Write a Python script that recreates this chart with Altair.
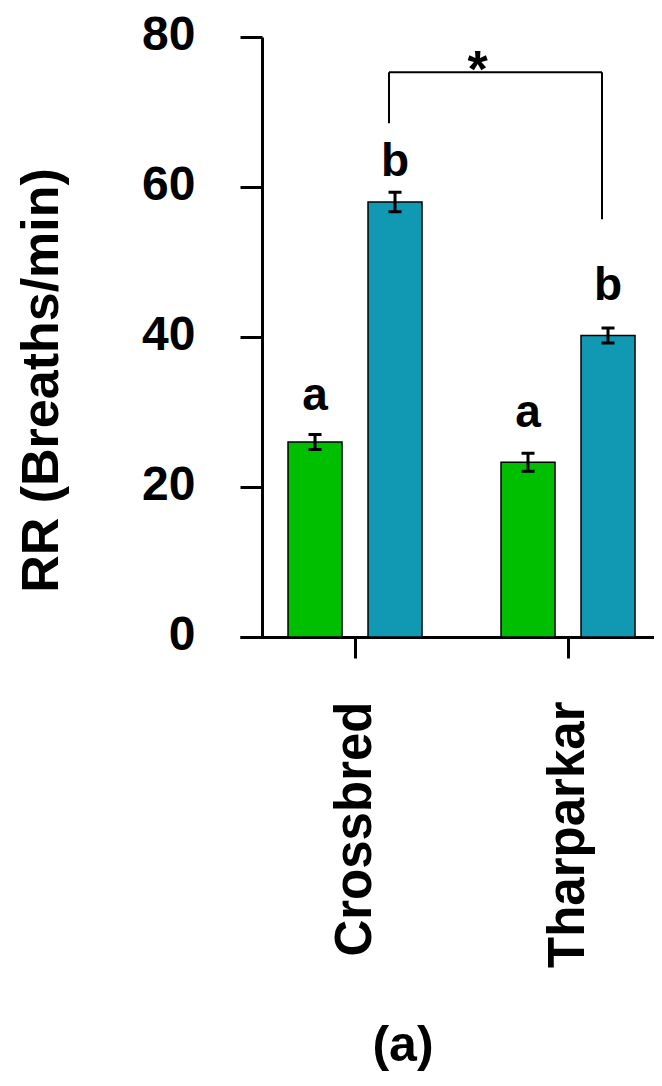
import json
import altair as alt
import pandas as pd

# ---------------- data ----------------
breeds = ["Crossbred", "Tharparkar"]
conditions = ["Control", "Heat stress"]
rr_mean = [26.0, 58.0, 23.3, 40.2]   # Crossbred-Control, Crossbred-Heat, Tharparkar-Control, Tharparkar-Heat
rr_err = [1.0, 1.3, 1.2, 1.0]
letters = ["a", "b", "a", "b"]
letter_y = [30.3, 61.5, 28.0, 45.0]
bar_colors = ["#00BF00", "#1199B4"]
y_ticks = [0, 20, 40, 60, 80]
sig_text = ["*"]
sig_top = 75.3
sig_left_end = 68.5
sig_right_end = 55.7

# ---------------- layout constants ----------------
STEP = 213.0          # px per breed group
OFF = 40 / STEP       # bar centre offset from group centre
HALF = 27 / STEP      # half bar width
CAP = 6.5 / STEP      # half error cap width
NUDGE = 6 / STEP      # bracket slightly left of bar centres
FONT = "Liberation Sans"
W = 392

rows = []
for i, b in enumerate(breeds):
    for j, c in enumerate(conditions):
        k = i * 2 + j
        u = i + (j - 0.5) * 2 * OFF
        rows.append(dict(
            breed=b, cond=c, u=u, x0=u - HALF, x1=u + HALF,
            mean=rr_mean[k], zero=0.0,
            lo=rr_mean[k] - rr_err[k], hi=rr_mean[k] + rr_err[k],
            cl=u - CAP, cr=u + CAP, letter=letters[k], ly=letter_y[k],
        ))
df = pd.DataFrame(rows)

uL = 0 + OFF - NUDGE
uR = 1 + OFF - NUDGE
bracket = pd.DataFrame([
    dict(x=uL, x2=uL, y=sig_top, y2=sig_left_end),
    dict(x=uR, x2=uR, y=sig_top, y2=sig_right_end),
    dict(x=uL, x2=uR, y=sig_top, y2=sig_top),
])
star = pd.DataFrame([dict(x=(uL + uR) / 2, y=sig_top, t=sig_text[0])])

# ---------------- scales & axes ----------------
xs = alt.Scale(domain=[-0.54, -0.54 + (W + 22) / STEP], range=[-22, W], nice=False, zero=False)
ys = alt.Scale(domain=[0, 80], nice=False, zero=True)

xaxis = alt.Axis(
    values=[0, 1], labelExpr=f"{json.dumps(breeds)}[datum.value]",
    domainColor="black", domainWidth=3, tickColor="black", tickWidth=3, tickSize=21,
    labelAngle=270, labelAlign="right", labelBaseline="middle", labelLimit=1000,
    labelFont=FONT, labelFontWeight="bold", labelFontSize=51, labelColor="black",
    labelPadding=43, labelFlush=False, labelOverlap=False, labelBound=False,
    grid=False, title="(a)", titleFont=FONT, titleFontWeight="bold", titleFontSize=50,
    titleColor="black", titleAngle=0, titleAlign="center", titleBaseline="alphabetic",
    titleX=140.5, titleY=423.5, titleLimit=1000,
)
yaxis = alt.Axis(
    values=y_ticks, domainColor="black", domainWidth=3, tickColor="black", tickWidth=3,
    tickSize=22, labelFont=FONT, labelFontWeight="bold", labelFontSize=48,
    labelColor="black", labelPadding=45, labelAlign="right", labelBaseline="middle",
    labelOffset=-2, labelFlush=False, labelLimit=1000, grid=False,
    title="RR (Breaths/min)", titleFont=FONT, titleFontWeight="bold", titleFontSize=52,
    titleColor="black", titleAngle=270, titleAlign="center", titleBaseline="alphabetic",
    titleX=-205, titleY=343, titleLimit=1000,
)

def X(f):
    return alt.X(f, type="quantitative", scale=xs, axis=xaxis)

def Y(f):
    return alt.Y(f, type="quantitative", scale=ys, axis=yaxis)

bars = alt.Chart(df).mark_rect(stroke="black", strokeWidth=1.5).encode(
    x=X("x0"), x2="x1", y=Y("mean"), y2="zero",
    color=alt.Color("cond:N", scale=alt.Scale(domain=conditions, range=bar_colors), legend=None),
)
err_v = alt.Chart(df).mark_rule(color="black", strokeWidth=3).encode(
    x=X("u"), y=Y("lo"), y2="hi")
cap_hi = alt.Chart(df).mark_rule(color="black", strokeWidth=3).encode(
    x=X("cl"), x2="cr", y=Y("hi"))
cap_lo = alt.Chart(df).mark_rule(color="black", strokeWidth=3).encode(
    x=X("cl"), x2="cr", y=Y("lo"))
txt = alt.Chart(df).mark_text(font=FONT, fontWeight="bold", fontSize=46, color="black",
                              align="center", baseline="alphabetic").encode(
    x=X("u"), y=Y("ly"), text="letter:N")
brk = alt.Chart(bracket).mark_rule(color="black", strokeWidth=2).encode(
    x=X("x"), x2="x2", y=Y("y"), y2="y2")
st = alt.Chart(star).mark_text(font=FONT, fontWeight="bold", fontSize=52, color="black",
                               align="center", baseline="alphabetic", dx=-18, dy=15).encode(
    x=X("x"), y=Y("y"), text="t:N")

chart = alt.layer(bars, err_v, cap_hi, cap_lo, txt, brk, st).properties(
    width=W, height=600,
    background="white",
    autosize=alt.AutoSizeParams(type="none"),
    padding={"left": 254, "top": 29, "right": 0, "bottom": 436},
).configure_view(strokeWidth=0, stroke="transparent")

chart.save("out.html", embed_options={"renderer": "svg", "actions": False})
